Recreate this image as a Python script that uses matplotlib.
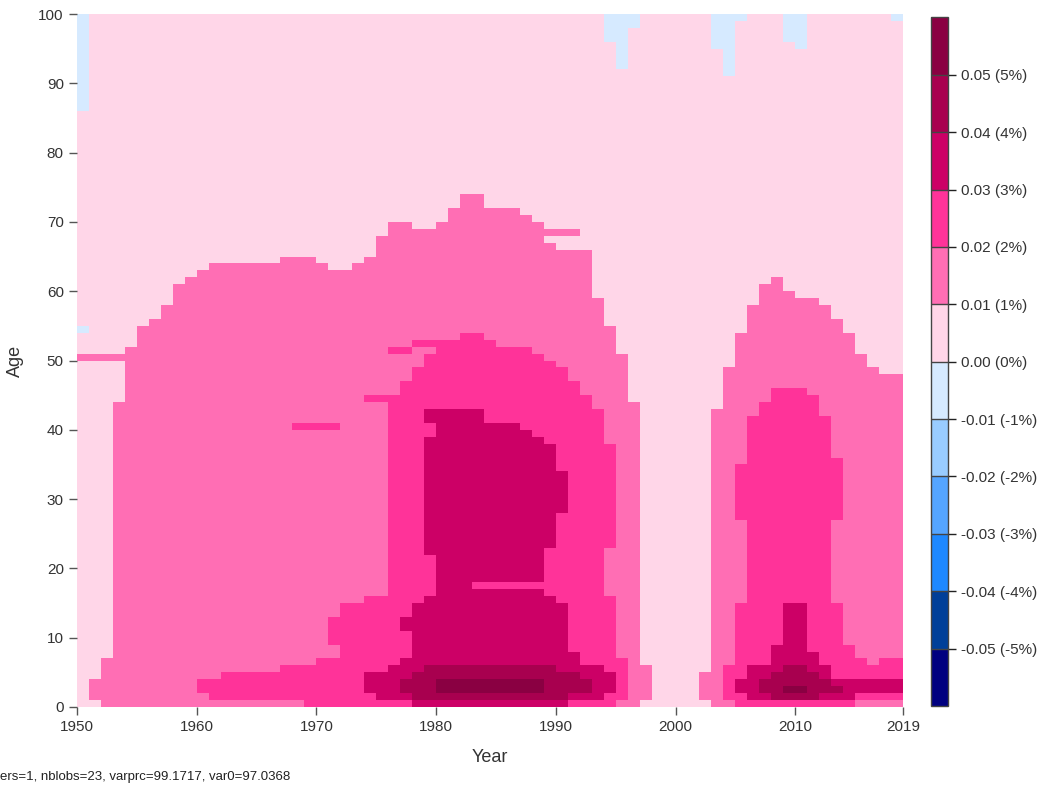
import numpy as np
import matplotlib
matplotlib.use("Agg")
import matplotlib.pyplot as plt
from matplotlib.colors import ListedColormap, BoundaryNorm

plt.rcParams['font.family'] = ['Liberation Sans', 'DejaVu Sans']

# grid: one cell per calendar year (1950..2018) and single age (0..99)
years = np.arange(1950, 2019)
ages = np.arange(0, 100)

# colour classes of the surface, 0.01 wide, from -0.06 to 0.06
bounds = np.round(np.arange(-0.06, 0.0601, 0.01), 2)
class_colors = ['#000080', '#003f99', '#1e88ff', '#55a5ff', '#99ccff', '#d6eaff',
                '#ffd6e8', '#ff6eb4', '#ff3399', '#cc0066', '#a8004f', '#8a0042']

base_value = 0.005   # 0 .. 1 %

# blocks: (first year, last year, first age, last age)
blue_blocks = [(1950, 1950, 86, 99), (1950, 1950, 54, 54), (1994, 1994, 96, 99),
               (1995, 1995, 92, 99), (1996, 1996, 98, 99), (2003, 2003, 95, 99),
               (2004, 2004, 91, 99), (2005, 2005, 99, 99), (2009, 2009, 96, 99),
               (2010, 2010, 95, 99), (2018, 2018, 99, 99)]
blue_value = -0.005

lvl1_blocks = [(1950, 1953, 50, 50), (1951, 1951, 1, 3), (1952, 1952, 0, 6),
               (1953, 1953, 0, 43), (1954, 1954, 0, 51), (1955, 1955, 0, 54),
               (1956, 1956, 0, 55), (1957, 1957, 0, 57), (1958, 1958, 0, 60),
               (1959, 1959, 0, 61), (1960, 1960, 0, 62), (1961, 1966, 0, 63),
               (1967, 1969, 0, 64), (1970, 1970, 0, 63), (1971, 1972, 0, 62),
               (1973, 1973, 0, 63), (1974, 1974, 0, 64), (1975, 1975, 0, 67),
               (1976, 1977, 0, 69), (1978, 1979, 0, 68), (1980, 1980, 0, 69),
               (1981, 1981, 0, 71), (1982, 1983, 0, 73), (1984, 1986, 0, 71),
               (1987, 1987, 0, 70), (1988, 1988, 0, 69), (1989, 1989, 0, 66),
               (1989, 1991, 68, 68), (1990, 1992, 0, 65), (1993, 1993, 0, 58),
               (1994, 1994, 0, 54), (1995, 1995, 0, 50), (1996, 1996, 0, 43),
               (1997, 1997, 1, 5), (2002, 2002, 1, 4), (2003, 2003, 0, 42),
               (2004, 2004, 0, 48), (2005, 2005, 0, 53), (2006, 2006, 0, 57),
               (2007, 2007, 0, 60), (2008, 2008, 0, 61), (2009, 2009, 0, 59),
               (2010, 2011, 0, 58), (2012, 2012, 0, 57), (2013, 2013, 0, 55),
               (2014, 2014, 0, 53), (2015, 2015, 0, 50), (2016, 2016, 0, 48),
               (2017, 2018, 0, 47)]
lvl1_value = 0.015

lvl2_blocks = [(1960, 1960, 2, 3), (1961, 1961, 1, 3), (1962, 1966, 1, 4),
               (1967, 1968, 1, 5), (1969, 1969, 0, 5), (1970, 1971, 0, 6),
               (1971, 1971, 9, 12), (1968, 1971, 40, 40), (1972, 1973, 0, 14),
               (1974, 1975, 0, 15), (1974, 1975, 44, 44), (1976, 1976, 0, 44),
               (1976, 1977, 51, 51), (1977, 1977, 0, 46), (1978, 1978, 0, 48),
               (1978, 1979, 52, 52), (1979, 1979, 0, 50), (1980, 1981, 0, 52),
               (1982, 1983, 0, 53), (1984, 1984, 0, 52), (1985, 1987, 0, 51),
               (1988, 1988, 0, 50), (1989, 1989, 0, 49), (1990, 1990, 0, 48),
               (1991, 1991, 0, 46), (1992, 1992, 0, 44), (1993, 1993, 0, 42),
               (1994, 1994, 0, 15), (1994, 1994, 23, 37), (1995, 1995, 1, 6),
               (2004, 2004, 1, 5), (2005, 2005, 0, 14), (2005, 2005, 27, 34),
               (2006, 2006, 0, 41), (2007, 2007, 0, 43), (2008, 2010, 0, 45),
               (2011, 2011, 0, 44), (2012, 2012, 0, 41), (2013, 2013, 0, 14),
               (2013, 2013, 27, 35), (2014, 2014, 0, 8), (2015, 2015, 1, 6),
               (2016, 2016, 1, 5), (2017, 2018, 1, 6)]
lvl2_value = 0.025

lvl3_blocks = [(1978, 1990, 0, 0), (1975, 1993, 1, 1), (1974, 1994, 2, 4),
               (1976, 1993, 5, 5), (1977, 1991, 6, 6), (1978, 1991, 7, 7),
               (1978, 1990, 8, 10), (1977, 1990, 11, 12), (1978, 1990, 13, 14),
               (1979, 1989, 15, 15), (1980, 1988, 16, 16), (1980, 1982, 17, 17),
               (1980, 1988, 18, 21), (1979, 1988, 22, 22), (1979, 1989, 23, 27),
               (1979, 1990, 28, 33), (1979, 1989, 34, 37), (1979, 1988, 38, 38),
               (1980, 1987, 39, 39), (1980, 1986, 40, 40), (1979, 1983, 41, 42),
               (2009, 2010, 9, 14), (2008, 2010, 8, 8), (2008, 2011, 6, 7),
               (2006, 2012, 4, 5), (2005, 2018, 2, 3), (2006, 2014, 1, 1)]
lvl3_value = 0.035

lvl4_blocks = [(1978, 1990, 1, 1), (1977, 1992, 2, 3), (1978, 1991, 4, 4),
               (1979, 1989, 5, 5), (2009, 2010, 5, 5), (2008, 2011, 4, 4),
               (2007, 2012, 3, 3), (2007, 2013, 2, 2), (2008, 2011, 1, 1)]
lvl4_value = 0.045

lvl5_blocks = [(1980, 1988, 2, 3), (2009, 2010, 2, 2)]
lvl5_value = 0.055

x_ticks = [1950, 1960, 1970, 1980, 1990, 2000, 2010, 2019]
y_ticks = list(range(0, 101, 10))
footer = "ers=1, nblobs=23, varprc=99.1717, var0=97.0368"

# build the surface
z = np.full((len(ages), len(years)), base_value)
for blocks, val in [(blue_blocks, blue_value), (lvl1_blocks, lvl1_value),
                    (lvl2_blocks, lvl2_value), (lvl3_blocks, lvl3_value),
                    (lvl4_blocks, lvl4_value), (lvl5_blocks, lvl5_value)]:
    for y0, y1, a0, a1 in blocks:
        z[a0:a1 + 1, y0 - years[0]:y1 - years[0] + 1] = val

cmap = ListedColormap(class_colors)
norm = BoundaryNorm(bounds, cmap.N)

fig = plt.figure(figsize=(10.5, 7.88), dpi=100)
ax = fig.add_axes([0.0733, 0.1028, 0.7867, 0.8794])
x_edges = np.append(years, years[-1] + 1)
y_edges = np.append(ages, ages[-1] + 1)
mesh = ax.pcolormesh(x_edges, y_edges, z, cmap=cmap, norm=norm)
ax.set_xlim(1950, 2019)
ax.set_ylim(0, 100)
for s in ax.spines.values():
    s.set_visible(False)
ax.set_xticks(x_ticks)
ax.set_yticks(y_ticks)
ax.tick_params(axis='both', length=6, width=1, color='#555555',
               labelsize=11, labelcolor='#333333')
ax.set_xlabel('Year', fontsize=13, color='#333333', labelpad=11)
ax.set_ylabel('Age', fontsize=13, color='#333333', labelpad=10)

cax = fig.add_axes([0.8867, 0.104, 0.0162, 0.874])
cb = fig.colorbar(mesh, cax=cax, ticks=bounds[1:-1], drawedges=True)
cb.ax.set_yticklabels([f"{v:.2f} ({v * 100:.0f}%)" for v in bounds[1:-1]])
cb.ax.tick_params(length=6, width=1, color='#222222', labelsize=11,
                  labelcolor='#333333')
cb.ax.minorticks_off()
cb.outline.set_edgecolor('#444444')
cb.outline.set_linewidth(1)
cb.dividers.set_color('#444444')
cb.dividers.set_linewidth(1)

fig.text(0.0, 0.006, footer, fontsize=9.5, color='#222222', ha='left', va='bottom')

fig.savefig('out.png', dpi=100)
